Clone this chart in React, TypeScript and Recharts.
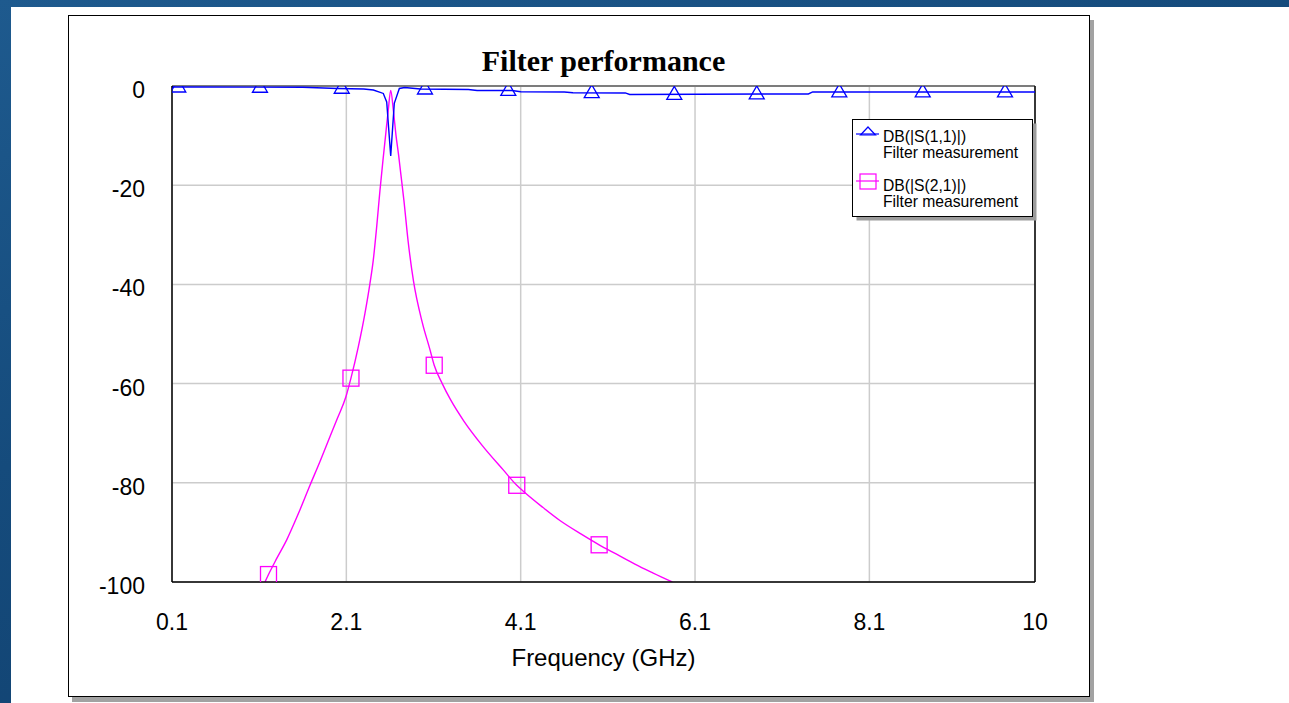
import React from 'react';
import {
  ComposedChart,
  Line,
  Scatter,
  XAxis,
  YAxis,
  CartesianGrid,
  ReferenceLine,
  Legend,
} from 'recharts';

// Axis ticks
const freqTicks = [0.1, 2.1, 4.1, 6.1, 8.1, 10];
const dbTicks = [0, -20, -40, -60, -80, -100];

// DB(|S(1,1)|) trace
const s11Freq = [0.1, 1.6, 2.0, 2.3, 2.41, 2.524, 2.563, 2.609, 2.65, 2.708, 2.77, 2.95, 3.5, 3.6, 4.0, 4.1, 4.6, 4.7, 5.3, 5.35, 7.4, 7.45, 10];
const s11Db = [-0.2, -0.25, -0.5, -0.6, -0.8, -1.5, -3.2, -14.1, -3.5, -0.5, -0.3, -0.6, -0.7, -0.9, -0.9, -1.15, -1.2, -1.35, -1.4, -1.7, -1.6, -1.2, -1.2];

// DB(|S(2,1)|) trace
const s21Freq = [1.167, 1.207, 1.3, 1.416, 1.55, 1.683, 1.8, 1.9, 2.0, 2.096, 2.153, 2.237, 2.314, 2.371, 2.409, 2.448, 2.486, 2.52, 2.55, 2.58, 2.609, 2.64, 2.67, 2.7, 2.72, 2.76, 2.81, 2.87, 2.97, 3.06, 3.108, 3.2, 3.3, 3.45, 3.66, 3.9, 4.055, 4.13, 4.35, 4.55, 4.8, 5.0, 5.2, 5.41, 5.62, 5.84];
const s21Db = [-100, -98.5, -95.3, -91.5, -86.2, -80.5, -75.6, -71.2, -66.9, -62.6, -58.9, -52.6, -45.8, -39.8, -35.1, -28.4, -21, -15, -10, -5, -0.9, -5, -10, -14, -17, -23, -31.5, -39.3, -47.6, -53.2, -56.3, -60.0, -63.4, -67.6, -72.5, -77.4, -80.5, -81.7, -84.9, -87.6, -90.4, -92.5, -94.4, -96.4, -98.2, -100];

// Marker positions along each trace
const s11MarkerFreq = [0.172, 1.109, 2.047, 3.002, 3.958, 4.915, 5.862, 6.808, 7.755, 8.712, 9.656];
const s11MarkerDb = [-0.2, -0.25, -0.45, -0.6, -0.9, -1.35, -1.7, -1.6, -1.2, -1.2, -1.2];
const s21MarkerFreq = [1.207, 2.153, 3.108, 4.055, 5.0];
const s21MarkerDb = [-98.5, -58.9, -56.3, -80.5, -92.5];

const seriesNames = ['DB(|S(1,1)|)', 'DB(|S(2,1)|)'];
const sourceName = 'Filter measurement';
const chartTitle = 'Filter performance';
const xTitle = 'Frequency (GHz)';

const BLUE = '#0000ff';
const MAGENTA = '#ff00ff';
const SANS = 'Arial, "Liberation Sans", sans-serif';
const SERIF = '"Times New Roman", "Liberation Serif", serif';

const zip = (fs: number[], vs: number[]) => fs.map((f, i) => ({ f, db: vs[i] }));

const s11Data = zip(s11Freq, s11Db);
const s21Data = zip(s21Freq, s21Db);
const s11Markers = zip(s11MarkerFreq, s11MarkerDb);
const s21Markers = zip(s21MarkerFreq, s21MarkerDb);

const Triangle = (props: any) => {
  const { cx, cy } = props;
  if (cx == null || cy == null) return null;
  return (
    <path
      d={`M${cx},${cy - 8}L${cx + 7.5},${cy + 5}L${cx - 7.5},${cy + 5}Z`}
      fill="none"
      stroke={BLUE}
      strokeWidth={1.3}
    />
  );
};

const Square = (props: any) => {
  const { cx, cy } = props;
  if (cx == null || cy == null) return null;
  return <rect x={cx - 8} y={cy - 8} width={16} height={16} fill="none" stroke={MAGENTA} strokeWidth={1.3} />;
};

const YTick = (props: any) => {
  const { x, y, payload } = props;
  return (
    <text x={x} y={y} dy={12} textAnchor="end" fontFamily={SANS} fontSize={23} fill="#000">
      {payload.value}
    </text>
  );
};

const XTick = (props: any) => {
  const { x, y, payload } = props;
  return (
    <text x={x} y={y} dy="0.71em" textAnchor="middle" fontFamily={SANS} fontSize={23} fill="#000">
      {payload.value}
    </text>
  );
};

const LegendBox = () => (
  <svg width={186} height={104} style={{ display: 'block', overflow: 'visible' }}>
    <rect x={4.5} y={4.5} width={180} height={97} fill="#9c9c9c" />
    <rect x={0.5} y={0.5} width={180} height={97} fill="#fff" stroke="#000" strokeWidth={1} />
    <g fontFamily={SANS} fontSize={15.7} fill="#000">
      <line x1={4} y1={15} x2={27} y2={15} stroke={BLUE} strokeWidth={1.2} />
      <path d="M16,8L23.5,16L8.5,16Z" fill="none" stroke={BLUE} strokeWidth={1.2} />
      <text x={31} y={23}>{seriesNames[0]}</text>
      <text x={31} y={38.5}>{sourceName}</text>
      <line x1={4} y1={62} x2={27} y2={62} stroke={MAGENTA} strokeWidth={1.2} />
      <rect x={8} y={55} width={16} height={15} fill="none" stroke={MAGENTA} strokeWidth={1.2} />
      <text x={31} y={72}>{seriesNames[1]}</text>
      <text x={31} y={87.5}>{sourceName}</text>
    </g>
  </svg>
);

export default function App() {
  return (
    <div
      style={{
        position: 'absolute',
        left: 0,
        top: 0,
        width: 1289,
        height: 703,
        overflow: 'hidden',
        background: 'linear-gradient(160deg, #1e5a8e 0%, #154b7c 40%, #0f3c69 100%)',
      }}
    >
      {/* white page */}
      <div style={{ position: 'absolute', left: 11, top: 7, width: 1278, height: 696, background: '#fff' }} />
      {/* frame shadow */}
      <div style={{ position: 'absolute', left: 72, top: 20, width: 1022, height: 682, background: '#a2a2a2' }} />
      {/* frame */}
      <div
        style={{
          position: 'absolute',
          left: 68,
          top: 15,
          width: 1020,
          height: 680,
          background: '#fff',
          border: '1px solid #000',
        }}
      />
      <div
        style={{
          position: 'absolute',
          left: 172,
          top: 46,
          width: 863,
          textAlign: 'center',
          fontFamily: SERIF,
          fontWeight: 'bold',
          fontSize: 30,
          lineHeight: '30px',
          color: '#000',
        }}
      >
        {chartTitle}
      </div>
      <div style={{ position: 'absolute', left: 68, top: 15 }}>
        <ComposedChart
          width={1022}
          height={682}
          margin={{ top: 71, right: 55, bottom: 25, left: 44 }}
        >
          <CartesianGrid stroke="#cccccc" strokeWidth={1.5} />
          <XAxis
            type="number"
            dataKey="f"
            domain={[0.1, 10]}
            ticks={freqTicks}
            allowDataOverflow
            interval={0}
            height={90}
            tickLine={false}
            tickSize={0}
            tickMargin={32}
            axisLine={{ stroke: '#000', strokeWidth: 1.5 }}
            tick={<XTick />}
            label={{
              value: xTitle,
              position: 'insideBottom',
              offset: 6,
              fontFamily: SANS,
              fontSize: 24,
              fill: '#000',
            }}
          />
          <YAxis
            type="number"
            dataKey="db"
            domain={[-100, 0]}
            ticks={dbTicks}
            allowDataOverflow
            interval={0}
            width={60}
            tickLine={false}
            tickSize={0}
            tickMargin={27}
            axisLine={{ stroke: '#000', strokeWidth: 1.5 }}
            tick={<YTick />}
          />
          <ReferenceLine y={0} stroke="#7c7c7c" strokeWidth={2} />
          <ReferenceLine x={10} stroke="#000" strokeWidth={1.5} />
          <Line
            data={s21Data}
            dataKey="db"
            type="monotone"
            stroke={MAGENTA}
            strokeWidth={1.4}
            dot={false}
            activeDot={false}
            isAnimationActive={false}
          />
          <Line
            data={s11Data}
            dataKey="db"
            type="linear"
            stroke={BLUE}
            strokeWidth={1.4}
            dot={false}
            activeDot={false}
            isAnimationActive={false}
          />
          <Scatter data={s21Markers} shape={<Square />} isAnimationActive={false} />
          <Scatter data={s11Markers} shape={<Triangle />} isAnimationActive={false} />
          <Legend
            layout="horizontal"
            align="center"
            verticalAlign="middle"
            wrapperStyle={{ left: 784, top: 104, width: 186, height: 104 }}
            content={() => <LegendBox />}
          />
        </ComposedChart>
      </div>
    </div>
  );
}
